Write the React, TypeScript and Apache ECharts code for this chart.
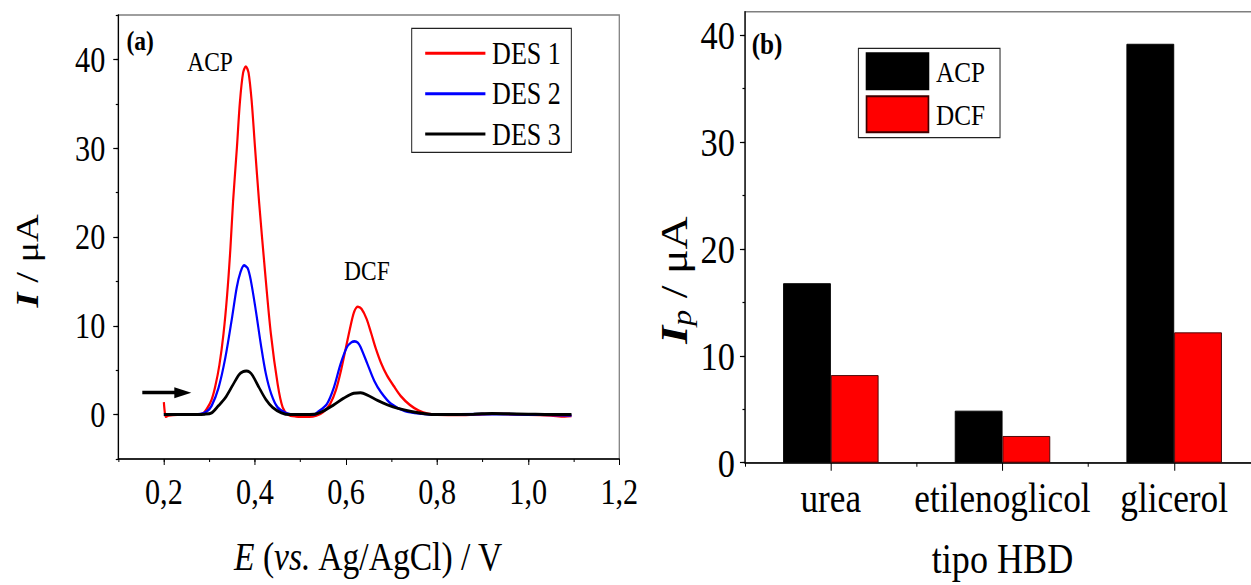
import React, { useEffect, useRef } from "react";
import * as echarts from "echarts";

// Differential pulse voltammograms: potential (V) vs current (µA)
const des1Curve: [number, number][] = [
  [0.2, 1.4], [0.2025, 0.1], [0.205, -0.25], [0.21, -0.1], [0.23, 0], [0.26, 0], [0.283, 0.05],
  [0.295, 0.7], [0.305, 1.7], [0.313, 3.2], [0.322, 5.6], [0.331, 9.1], [0.339, 13.5], [0.346, 18.6],
  [0.352, 24.0], [0.3606, 30.2], [0.367, 35.2], [0.374, 38.5], [0.38, 39.2], [0.386, 38.5],
  [0.393, 35.2], [0.4, 30.2], [0.409, 24.0], [0.422, 16.2], [0.435, 9.1], [0.45, 3.4], [0.461, 0.8],
  [0.4725, 0], [0.49, -0.2], [0.52, -0.25], [0.535, -0.1], [0.55, 0.3], [0.565, 1.2], [0.578, 2.8],
  [0.59, 5.2], [0.6, 7.6], [0.61, 10.0], [0.618, 11.6], [0.626, 12.15], [0.634, 11.9], [0.645, 10.8],
  [0.655, 9.2], [0.665, 7.5], [0.677, 5.8], [0.69, 4.4], [0.705, 3.2], [0.72, 2.1], [0.74, 1.1],
  [0.76, 0.45], [0.78, 0.1], [0.8, 0], [0.85, -0.05], [0.9, 0.05], [0.93, 0.1], [0.96, 0.05],
  [1.0, 0], [1.05, -0.1], [1.08, -0.2], [1.095, -0.15],
];
const des2Curve: [number, number][] = [
  [0.2, 0], [0.25, 0], [0.28, 0.05], [0.295, 0.4], [0.305, 1.0], [0.32, 3.0], [0.335, 6.4],
  [0.35, 11.0], [0.36, 14.3], [0.368, 16.0], [0.376, 16.8], [0.384, 16.5], [0.391, 15.1],
  [0.402, 11.7], [0.413, 7.9], [0.424, 4.6], [0.436, 2.3], [0.45, 0.8], [0.469, 0.15], [0.49, 0],
  [0.53, 0], [0.536, 0.2], [0.558, 1.2], [0.573, 3.0], [0.588, 5.7], [0.602, 7.6], [0.612, 8.15],
  [0.619, 8.25], [0.626, 8.1], [0.632, 7.6], [0.647, 5.7], [0.662, 3.8], [0.677, 2.5],
  [0.699, 1.2], [0.729, 0.4], [0.766, 0.1], [0.8, 0], [0.9, 0.05], [0.95, 0.05], [1.0, 0],
  [1.05, -0.05], [1.095, -0.1],
];
const des3Curve: [number, number][] = [
  [0.2, 0], [0.25, 0], [0.29, 0.05], [0.305, 0.2], [0.32, 1.0], [0.335, 1.9], [0.35, 3.2],
  [0.365, 4.5], [0.374, 4.85], [0.381, 4.9], [0.388, 4.8], [0.395, 4.4], [0.409, 3.05],
  [0.424, 1.7], [0.439, 0.8], [0.458, 0.2], [0.476, 0], [0.53, 0.05], [0.55, 0.4], [0.573, 1.1],
  [0.595, 1.85], [0.617, 2.4], [0.632, 2.45], [0.647, 2.2], [0.669, 1.6], [0.691, 1.1],
  [0.714, 0.7], [0.743, 0.35], [0.773, 0.1], [0.8, 0], [0.88, 0.05], [0.92, 0.12], [0.95, 0.1],
  [1.0, 0.05], [1.05, 0], [1.095, 0],
];
const desNames = ["DES 1", "DES 2", "DES 3"];

// Scan direction arrow (potential, current)
const arrowStart: [number, number] = [0.1527, 2.47];
const arrowEnd: [number, number] = [0.2416, 2.47];

// Peak currents per hydrogen-bond donor
const hbdCategories = ["urea", "etilenoglicol", "glicerol"];
const peakNames = ["ACP", "DCF"];
const acpPeaks = [16.8, 4.87, 39.2];
const dcfPeaks = [8.2, 2.5, 12.2];

// Tick values
const potentialLabels = [0.2, 0.4, 0.6, 0.8, 1.0, 1.2];
const potentialMinor = [0.1, 0.2, 0.3, 0.4, 0.5, 0.6, 0.7, 0.8, 0.9, 1.0, 1.1, 1.2];
const currentLabels = [0, 10, 20, 30, 40];
const currentMinor = [-5, 0, 5, 10, 15, 20, 25, 30, 35, 40, 45];
const peakLabels = [0, 10, 20, 30, 40];
const peakMinor = [0, 5, 10, 15, 20, 25, 30, 35, 40];

const FONT = "'Liberation Serif', 'DejaVu Serif', serif";
const S = 0.84; // horizontal condensing of the whole figure
const px = (x: number) => x / S;
const INNER_W = Math.ceil(1275 / S);

export default function App() {
  const ref = useRef<HTMLDivElement>(null);
  useEffect(() => {
    if (!ref.current) return;
    const chart = echarts.init(ref.current, undefined, { renderer: "svg" });
    const black = "#000";
    const frame = "#7f7f7f";
    const axisLine = { show: true, onZero: false, lineStyle: { color: black, width: 1.5 } };
    const hidden = { show: false };
    const tickLine = { color: black, width: 1.2 };

    const option: any = {
      animation: false,
      backgroundColor: "#fff",
      textStyle: { fontFamily: FONT, color: black },
      grid: [
        {
          left: px(118.3), top: 15, width: px(501), height: 444, show: true,
          borderColor: frame, borderWidth: 1.5, containLabel: false, outerBoundsMode: "none",
        },
        {
          left: px(745), top: 11.7, width: px(515), height: 451, show: true,
          borderColor: frame, borderWidth: 1.5, containLabel: false, outerBoundsMode: "none",
        },
      ],
      xAxis: [
        {
          gridIndex: 0, type: "value", min: 0.1, max: 1.2, interval: 0.1, position: "bottom",
          axisLine, splitLine: hidden,
          axisTick: { show: true, length: 3, lineStyle: tickLine, customValues: potentialMinor },
          axisLabel: {
            customValues: potentialLabels, fontSize: 36, fontFamily: FONT, color: black, margin: 15,
            formatter: (v: number) => v.toFixed(1).replace(".", ","),
          },
          name: "{i|E} ({i|vs.} Ag/AgCl) / V", nameLocation: "middle", nameGap: 77,
          nameTextStyle: {
            fontSize: 40, fontFamily: FONT, color: black,
            rich: { i: { fontStyle: "italic", fontSize: 40, fontFamily: FONT } },
          },
        },
        {
          gridIndex: 0, type: "value", min: 0.1, max: 1.2, interval: 0.1, position: "bottom",
          axisLine: { show: false, onZero: false }, splitLine: hidden, axisLabel: hidden,
          axisTick: { show: true, length: 6, lineStyle: tickLine, customValues: potentialLabels },
        },
        {
          gridIndex: 1, type: "category", data: hbdCategories, position: "bottom",
          axisLine, splitLine: hidden,
          axisTick: { show: true, alignWithLabel: true, length: 8, lineStyle: tickLine },
          axisLabel: { interval: 0, fontSize: 42, fontFamily: FONT, color: black, margin: 14 },
          name: "tipo HBD", nameLocation: "middle", nameGap: 73,
          nameTextStyle: { fontSize: 43, lineHeight: 46, fontFamily: FONT, color: black },
        },
        {
          gridIndex: 1, type: "category", data: hbdCategories, position: "bottom",
          axisLine: { show: false, onZero: false }, splitLine: hidden, axisLabel: hidden,
          axisTick: { show: true, alignWithLabel: false, length: 4, lineStyle: tickLine },
        },
      ],
      yAxis: [
        {
          gridIndex: 0, type: "value", min: -5, max: 45, interval: 5, position: "left",
          axisLine, splitLine: hidden,
          axisTick: { show: true, length: 3, lineStyle: tickLine, customValues: currentMinor },
          axisLabel: { customValues: currentLabels, fontSize: 36, fontFamily: FONT, color: black, margin: px(13) },
        },
        {
          gridIndex: 0, type: "value", min: -5, max: 45, interval: 5, position: "left",
          axisLine: { show: false, onZero: false }, splitLine: hidden, axisLabel: hidden,
          axisTick: { show: true, length: 6, lineStyle: tickLine, customValues: currentLabels },
        },
        {
          gridIndex: 1, type: "value", min: 0, max: 42.2, interval: 5, position: "left",
          axisLine, splitLine: hidden,
          axisTick: { show: true, length: 3, lineStyle: tickLine, customValues: peakMinor },
          axisLabel: { customValues: peakLabels, fontSize: 41, fontFamily: FONT, color: black, margin: px(10) },
        },
        {
          gridIndex: 1, type: "value", min: 0, max: 42.2, interval: 5, position: "left",
          axisLine: { show: false, onZero: false }, splitLine: hidden, axisLabel: hidden,
          axisTick: { show: true, length: 6, lineStyle: tickLine, customValues: peakLabels },
        },
      ],
      legend: [
        {
          data: desNames, orient: "vertical", left: px(411.7), top: 28.3,
          icon: "rect", itemWidth: px(60.2), itemHeight: 3, itemGap: 9.35,
          padding: [9.5, px(10.5), 2.8, px(13.5)],
          borderColor: "#222", borderWidth: 1.2,
          textStyle: { fontSize: 31, lineHeight: 31, fontFamily: FONT, color: black, padding: [0, 0, 0, 3] },
        },
        {
          data: peakNames, orient: "vertical", left: px(858.4), top: 48.3,
          icon: "rect", itemWidth: px(61.9), itemHeight: 36, itemGap: 5,
          padding: [4, px(15), 4.3, px(7.3)],
          borderColor: "#222", borderWidth: 1.2,
          textStyle: { fontSize: 30, fontFamily: FONT, color: black, padding: [0, 0, 0, 4] },
        },
      ],
      series: [
        {
          name: desNames[0], type: "line", xAxisIndex: 0, yAxisIndex: 0, data: des1Curve,
          symbol: "none", smooth: 0.3, color: "#ff0000", lineStyle: { width: 2.6, color: "#ff0000" },
        },
        {
          name: desNames[1], type: "line", xAxisIndex: 0, yAxisIndex: 0, data: des2Curve,
          symbol: "none", smooth: 0.3, color: "#0000ff", lineStyle: { width: 2.6, color: "#0000ff" },
        },
        {
          name: desNames[2], type: "line", xAxisIndex: 0, yAxisIndex: 0, data: des3Curve,
          symbol: "none", smooth: 0.3, color: "#000", lineStyle: { width: 3, color: "#000" },
          markLine: {
            silent: true, symbol: ["none", "triangle"], symbolSize: [11, px(17)],
            label: { show: false },
            lineStyle: { color: "#000", width: 3.4, type: "solid" },
            data: [[{ coord: arrowStart }, { coord: arrowEnd }]],
          },
        },
        {
          name: peakNames[0], type: "bar", xAxisIndex: 2, yAxisIndex: 2, data: acpPeaks,
          barWidth: px(47.7), barGap: "0%", color: "#000",
          itemStyle: { color: "#000", borderColor: "#000", borderWidth: 1 },
        },
        {
          name: peakNames[1], type: "bar", xAxisIndex: 2, yAxisIndex: 2, data: dcfPeaks,
          barWidth: px(47.7), barGap: "0%", color: "#ff0000",
          itemStyle: { color: "#ff0000", borderColor: "#400000", borderWidth: 1 },
        },
      ],
      graphic: [
        { type: "text", left: px(126.4), top: 26.5, style: { text: "(a)", fontSize: 28, fontWeight: "bold", fontFamily: FONT, fill: black } },
        { type: "text", left: px(751.7), top: 28.5, style: { text: "(b)", fontSize: 30, fontWeight: "bold", fontFamily: FONT, fill: black } },
        { type: "text", left: px(187.2), top: 48, style: { text: "ACP", fontSize: 28, fontFamily: FONT, fill: black } },
        { type: "text", left: px(344.1), top: 257, style: { text: "DCF", fontSize: 28, fontFamily: FONT, fill: black } },
        {
          type: "text", x: px(26.7), y: 260.8, rotation: Math.PI / 2,
          style: {
            text: "{b|I} / μA", align: "center", verticalAlign: "middle",
            fontSize: 38.5, fontFamily: FONT, fill: black,
            rich: { b: { fontStyle: "italic", fontWeight: "bold", fontSize: 38.5, fontFamily: FONT } },
          },
        },
        {
          type: "text", x: px(674), y: 280, rotation: Math.PI / 2,
          style: {
            text: "{b|I}{sub|p} / μA", align: "center", verticalAlign: "middle",
            fontSize: 46, fontFamily: FONT, fill: black,
            rich: {
              b: { fontStyle: "italic", fontWeight: "bold", fontSize: 46, fontFamily: FONT },
              sub: { fontStyle: "italic", fontSize: 32, fontFamily: FONT, padding: [18, 0, 0, 0] },
            },
          },
        },
      ],
    };
    chart.setOption(option);
    return () => chart.dispose();
  }, []);

  return (
    <div style={{ position: "fixed", left: 0, top: 0, width: 1251, height: 585, overflow: "hidden", background: "#fff" }}>
      <div
        ref={ref}
        style={{ width: INNER_W, height: 585, transform: `scaleX(${S})`, transformOrigin: "0 0" }}
      />
    </div>
  );
}
